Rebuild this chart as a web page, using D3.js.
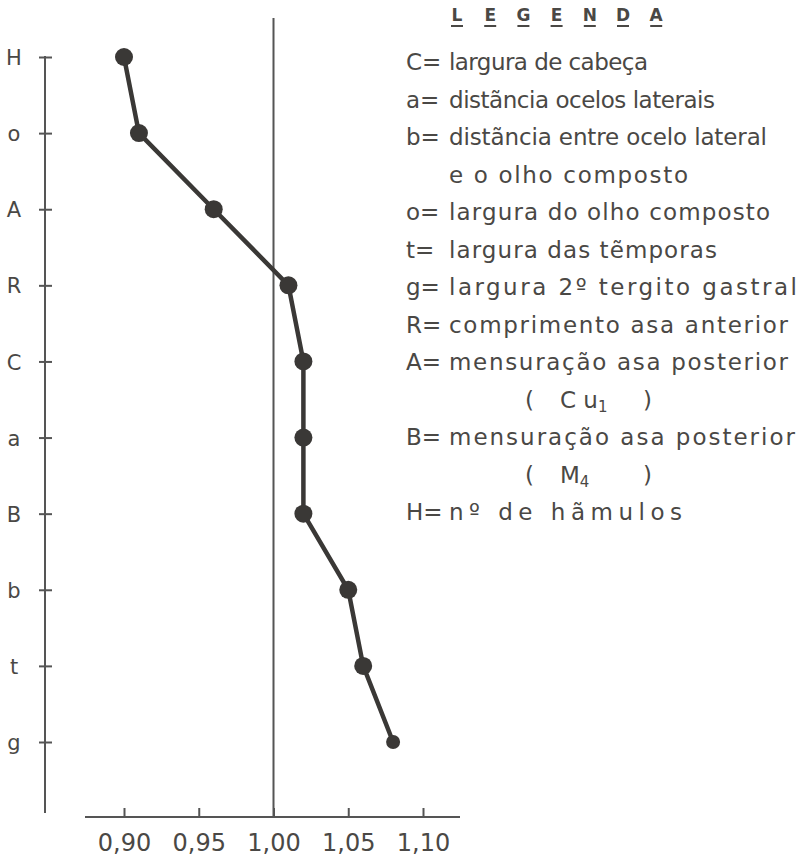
<!DOCTYPE html>
<html>
<head>
<meta charset="utf-8">
<script src="https://cdn.jsdelivr.net/npm/d3@7"></script>
<style>
  body { margin: 0; background: #fff; }
  text { font-family: "DejaVu Sans", sans-serif; fill: #4a4845; }
</style>
</head>
<body>
<svg id="chart" width="803" height="856"></svg>
<script>
// categories top to bottom and their ratio values
const categories = ["H", "o", "A", "R", "C", "a", "B", "b", "t", "g"];
const values = [0.90, 0.91, 0.96, 1.01, 1.02, 1.02, 1.02, 1.05, 1.06, 1.08];
const xTicks = [0.90, 0.95, 1.00, 1.05, 1.10];
const refValue = 1.00;

// legend: key, description (second lines have empty key)
const legendKeys = ["C=", "a=", "b=", "", "o=", "t=", "g=", "R=", "A=", "", "B=", "", "H="];
const legendTexts = [
  "largura de cabeça",
  "distãncia ocelos laterais",
  "distãncia entre ocelo lateral",
  "e o olho composto",
  "largura do olho composto",
  "largura das tẽmporas",
  "largura 2º tergito gastral",
  "comprimento asa anterior",
  "mensuração asa posterior",
  null,
  "mensuração asa posterior",
  null,
  "nº de hãmulos"
];
const legendEnds = [648, 715, 767, 688, 770, 717, 797, 788, 788, null, 795, null, 682];
const legendTitle = ["L", "E", "G", "E", "N", "D", "A"];

const ink = "#3a3836";
const svg = d3.select("#chart");

const x = d3.scaleLinear().domain([0.90, 1.10]).range([124, 423]);
const y = d3.scalePoint().domain(categories).range([57, 742]);

const axisX0 = 45;     // left axis position
const axisY0 = 817;    // bottom axis position

// left axis (ticks cross the line)
const yAxis = svg.append("g")
  .attr("transform", `translate(${axisX0},0)`)
  .call(d3.axisLeft(y).tickSize(6).tickPadding(0));
yAxis.select(".domain").remove();
yAxis.append("line")
  .attr("y1", y("H") - 1).attr("y2", 813)
  .attr("stroke", "#555").attr("stroke-width", 2);
yAxis.selectAll(".tick line").attr("x1", 7).attr("stroke", "#555").attr("stroke-width", 2);
yAxis.selectAll(".tick text")
  .attr("x", -31).attr("text-anchor", "middle").attr("dy", "0.36em")
  .attr("font-size", 21).attr("font-family", "DejaVu Sans").attr("fill", "#4a4845");

// bottom axis
const fmt = d => d3.format(".2f")(d).replace(".", ",");
const xAxis = svg.append("g")
  .attr("transform", `translate(0,${axisY0})`)
  .call(d3.axisBottom(x).tickValues(xTicks).tickSize(-9).tickFormat(fmt));
xAxis.select(".domain").remove();
xAxis.append("line")
  .attr("x1", 85).attr("x2", 460)
  .attr("stroke", "#555").attr("stroke-width", 2);
xAxis.selectAll(".tick line").attr("stroke", "#555").attr("stroke-width", 2);
xAxis.selectAll(".tick text")
  .attr("y", 25).attr("dy", "0.36em")
  .attr("font-size", 24).attr("font-family", "DejaVu Sans").attr("fill", "#4a4845");

// reference line at 1,00
svg.append("line")
  .attr("x1", x(refValue)).attr("x2", x(refValue))
  .attr("y1", 18).attr("y2", axisY0)
  .attr("stroke", "#555").attr("stroke-width", 2);

// profile line
const data = categories.map((c, i) => ({ cat: c, v: values[i] }));
svg.append("path")
  .datum(data)
  .attr("fill", "none")
  .attr("stroke", ink)
  .attr("stroke-width", 4.5)
  .attr("d", d3.line().x(d => x(d.v)).y(d => y(d.cat)));

svg.selectAll(".dot")
  .data(data)
  .enter()
  .append("circle")
  .attr("class", "dot")
  .attr("cx", d => x(d.v))
  .attr("cy", d => y(d.cat))
  .attr("r", (d, i) => i === data.length - 1 ? 7 : 9)
  .attr("fill", ink);

// legend title, each letter underlined
const title = svg.append("g");
legendTitle.forEach((l, i) => {
  const cx = 457 + i * 33.2;
  title.append("text")
    .attr("x", cx).attr("y", 21)
    .attr("text-anchor", "middle")
    .attr("font-size", 17).attr("font-weight", "bold")
    .text(l);
  title.append("line")
    .attr("x1", cx - 6).attr("x2", cx + 6)
    .attr("y1", 26).attr("y2", 26)
    .attr("stroke", "#4a4845").attr("stroke-width", 2);
});

// legend rows
const rowY = i => 62 + i * 37.5;
const legend = svg.append("g").attr("font-size", 23);
legendKeys.forEach((k, i) => {
  const yy = rowY(i) + 8;
  if (k) {
    legend.append("text").attr("x", 406).attr("y", yy).text(k);
  }
  if (legendTexts[i]) {
    legend.append("text")
      .attr("x", 449).attr("y", yy)
      .attr("textLength", legendEnds[i] - 449)
      .attr("lengthAdjust", "spacing")
      .text(legendTexts[i]);
  }
});

// sub lines with wing vein names
function veinLine(i, main, sub) {
  const yy = rowY(i) + 8;
  legend.append("text").attr("x", 525).attr("y", yy).text("(");
  legend.append("text").attr("x", 643).attr("y", yy).text(")");
  const t = legend.append("text").attr("x", 560).attr("y", yy);
  t.append("tspan").text(main);
  t.append("tspan").attr("font-size", 15).attr("dy", 4).text(sub);
}
veinLine(9, "C u", "1");
veinLine(11, "M", "4");
</script>
</body>
</html>
